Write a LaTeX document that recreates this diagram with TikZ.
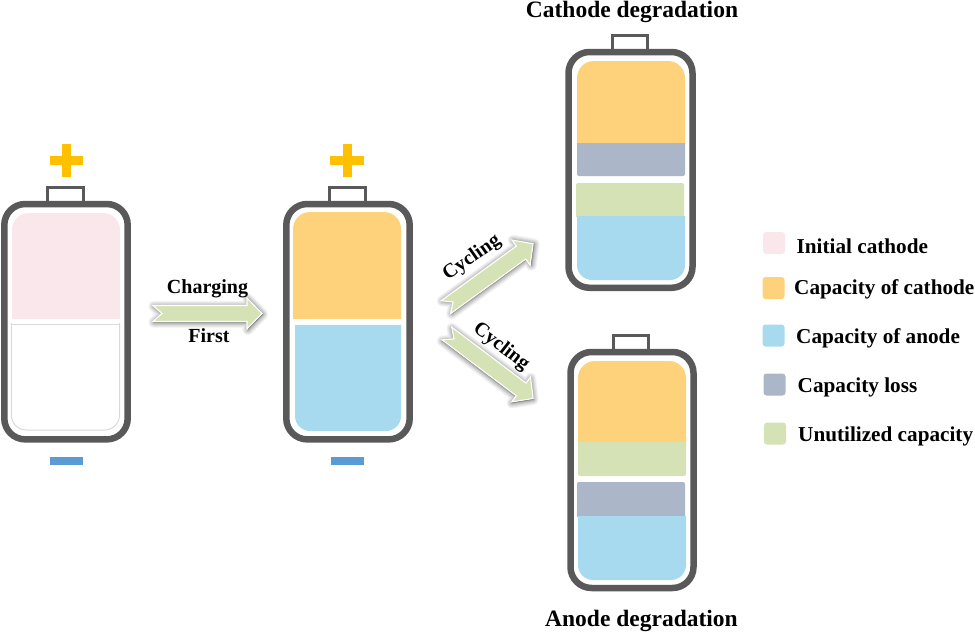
\documentclass[tikz,border=0pt]{standalone}
\usepackage{fontspec}
\setmainfont{Liberation Serif}
\usetikzlibrary{calc}
\definecolor{batgray}{HTML}{595959}
\definecolor{cpink}{HTML}{FAE7EB}
\definecolor{corange}{HTML}{FDD27A}
\definecolor{cblue}{HTML}{A8DAEF}
\definecolor{closs}{HTML}{ABB6C9}
\definecolor{cgreen}{HTML}{D4E2B6}
\definecolor{cplus}{HTML}{FFC000}
\definecolor{cminus}{HTML}{5B9BD5}
\tikzset{
  x=1pt,y=-1pt,
  shell/.style={draw=batgray,line width=6.5pt,fill=white,rounded corners=21pt},
  term/.style={draw=batgray,line width=3.4pt,fill=white},
  lab/.style={font=\bfseries\fontsize{21.2}{23}\selectfont,text=black,inner sep=0pt,anchor=base west},
  arrowlab/.style={font=\bfseries\fontsize{20}{22}\selectfont,text=black,inner sep=0pt},
  title/.style={font=\bfseries\fontsize{23.5}{25}\selectfont,text=black,inner sep=0pt,anchor=base},
  swatch/.style={draw=none,rounded corners=3pt,minimum width=22pt,minimum height=22pt,inner sep=0pt},
  flow/.style={fill=cgreen,draw=white,line width=1.1pt,line join=miter},
}
% fill with rounded top corners: colour, x1, y1, x2, y2, radius
\newcommand{\roundtop}[6]{%
  \begin{scope}\clip (#2,#3) rectangle (#4,#5);
  \fill[#1,rounded corners=#6 pt] (#2,#3) rectangle (#4,#5+40);\end{scope}}
\newcommand{\roundbot}[6]{%
  \begin{scope}\clip (#2,#3) rectangle (#4,#5);
  \fill[#1,rounded corners=#6 pt] (#2,#3-40) rectangle (#4,#5);\end{scope}}
% arrow: rotation, centre, length
\newcommand{\flowarrow}[3]{%
  \begin{scope}[shift={(#2)},rotate=#1]
    \foreach \w/\o in {11/0.045,9/0.05,7/0.06,5/0.07,3/0.08,1.5/0.08}{
      \draw[black,opacity=\o,line width=\w pt,line join=round,fill=black,shift={(0.8,0.8)}]
        (-#3/2,-8) -- ({#3/2-15},-8) -- ({#3/2-15},-15.5) -- (#3/2,0) -- ({#3/2-15},15.5) -- ({#3/2-15},8) -- (-#3/2,8) -- ({-#3/2+9},0) -- cycle;
    }
    \draw[flow] (-#3/2,-8) -- ({#3/2-15},-8) -- ({#3/2-15},-15.5) -- (#3/2,0) -- ({#3/2-15},15.5) -- ({#3/2-15},8) -- (-#3/2,8) -- ({-#3/2+9},0) -- cycle;
  \end{scope}}
\begin{document}
\begin{tikzpicture}
\useasboundingbox (0,0) rectangle (975,632);
% battery 1
\draw[term] (47.7,187.7) rectangle (83.5,203);
\draw[shell] (4.3,204) rectangle (127.7,439.4);
\roundtop{cpink}{12}{213}{120}{318}{17}
\begin{scope}\clip (9,323.8) rectangle (122,433);
\draw[draw=black!15,line width=1pt,rounded corners=15pt] (11.3,290) rectangle (119.5,430);
\end{scope}
\draw[draw=black!15,line width=1pt] (11.3,324.3) -- (119.5,324.3);
\fill[cplus] (62,143.5) rectangle (71,177);
\fill[cplus] (50,156) rectangle (83,164.5);
\fill[cminus] (50,457) rectangle (83,465);
% battery 2
\draw[term] (329.7,187.7) rectangle (365.5,203);
\draw[shell] (286.3,204) rectangle (409.7,439.4);
\roundtop{corange}{293}{212}{401}{318}{17}
\roundbot{cblue}{295}{325}{401}{431}{15}
\fill[cplus] (343,143.5) rectangle (352,177);
\fill[cplus] (330,156) rectangle (363.5,164.5);
\fill[cminus] (331,457) rectangle (364,465);
% battery 3
\draw[term] (612.7,35.7) rectangle (647.7,51);
\draw[shell] (568.5,52) rectangle (692.5,287.8);
\roundtop{corange}{577}{61}{685}{143}{17}
\roundbot{closs}{577}{143}{685}{176}{2}
\roundtop{cgreen}{576}{183}{684}{216}{2}
\roundbot{cblue}{577}{216}{685}{280}{15}
% battery 4
\draw[term] (613.7,335.7) rectangle (648.7,351);
\draw[shell] (570.5,352) rectangle (693.5,588);
\roundtop{corange}{578}{361}{686}{442}{17}
\roundbot{cgreen}{578}{442}{686}{476}{2}
\roundtop{closs}{577}{482}{685}{516}{2}
\roundbot{cblue}{578}{516}{686}{580}{15}
% arrows
\coordinate (a1) at (207.5,313.5);
\coordinate (a2) at (489.5,275.5);
\coordinate (a3) at (490,366);
\flowarrow{0}{a1}{109}
\flowarrow{36}{a2}{108}
\flowarrow{-37}{a3}{108}
% labels
\node[arrowlab,anchor=base] (charging) at (207.5,293) {Charging};
\node[arrowlab,anchor=base] (first) at (209,342) {First};
\node[arrowlab,rotate=35] (cyc1) at (472,258) {Cycling};
\node[arrowlab,rotate=-38] (cyc2) at (501,347) {Cycling};
\node[title] (t1) at (632,17) {Cathode degradation};
\node[title] (t2) at (641.5,626) {Anode degradation};
% legend
\node[swatch,fill=cpink] (s1) at (774,243) {};
\node[swatch,fill=corange] (s2) at (773.5,288) {};
\node[swatch,fill=cblue] (s3) at (773.5,335.5) {};
\node[swatch,fill=closs] (s4) at (774.5,384.5) {};
\node[swatch,fill=cgreen] (s5) at (775,433.5) {};
\node[lab] (l1) at (796.5,253) {Initial cathode};
\node[lab] (l2) at (794,294) {Capacity of cathode};
\node[lab] (l3) at (796,343) {Capacity of anode};
\node[lab] (l4) at (797.5,392) {Capacity loss};
\node[lab] (l5) at (798,441) {Unutilized capacity};
\end{tikzpicture}
\end{document}
